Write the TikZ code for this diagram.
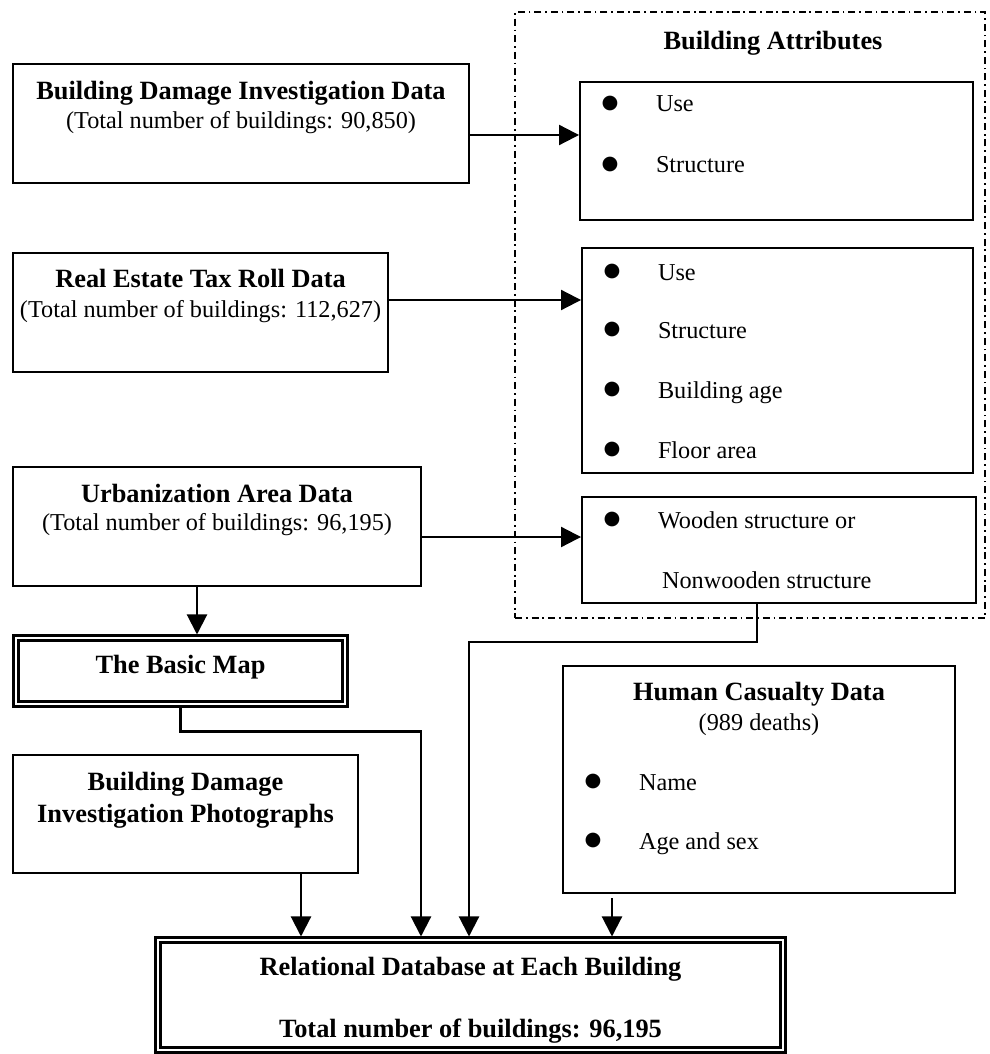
\documentclass[tikz,border=0pt]{standalone}
\usepackage{fontspec}
\setmainfont{Liberation Serif}
\newfontfamily\bulletFont{DejaVu Sans}
\usetikzlibrary{arrows.meta}

\begin{document}
\begin{tikzpicture}[
  font=\rmfamily,
  dataBox/.style={
    rectangle, draw=black, line width=1.2pt,
    inner sep=0pt
  },
  attrBox/.style={
    dataBox, line width=1.1pt
  },
  doubleBox/.style={
    dataBox, double, double distance=1.6pt,
    outer sep=2pt
  },
  attrFrame/.style={
    rectangle, draw=black, line width=0.8pt,
    inner sep=0pt,
    dash pattern=on 4pt off 2.2pt on 1pt off 2.2pt
  },
  flowArrow/.style={
    -{Triangle[length=0.4cm,width=0.4cm]},
    line width=1.2pt,
    draw=black
  }
]

% Text macros for inside boxes
\newcommand{\titleFont}{\fontsize{15}{0}\selectfont\bfseries}
\newcommand{\bodyFont}{\fontsize{13.8}{0}\selectfont\mdseries}
\newcommand{\boxText}[4]{\parbox[c][#2][t]{#1}{\lineskiplimit=-1000pt\lineskip=0pt\centering\bodyFont\rule{0pt}{#3}#4}}
\newcommand{\bulletItem}[1]{\makebox[\linewidth][l]{\hspace*{0.43cm}\makebox[1.09cm][l]{\raisebox{0.07cm}{\bulletFont\fontsize{11}{0}\selectfont ●}}#1}}

% Fix page to the 989 x 1054 frame
\useasboundingbox (0,0) rectangle (19.78,-21.08);

% Building attributes frame
\node[attrFrame] (attrs) at (15.0,-6.3) {\boxText{9.4cm}{12.12cm}{0.76cm}{\titleFont\hspace*{0.92cm}Building Attributes}};

% Source data (left column)
\node[dataBox] (bdi) at (4.82,-2.47) {\boxText{9.12cm}{2.38cm}{0.72cm}{%
  \titleFont Building Damage Investigation Data\\[0.58cm]
  \bodyFont (Total number of buildings: 90,850)}};
\node[dataBox] (tax) at (4.01,-6.25) {\boxText{7.5cm}{2.38cm}{0.70cm}{%
  \titleFont Real Estate Tax Roll Data\\[0.60cm]
  \bodyFont (Total number of buildings: 112,627)}};
\node[dataBox] (urban) at (4.34,-10.53) {\boxText{8.16cm}{2.38cm}{0.70cm}{%
  \titleFont Urbanization Area Data\\[0.56cm]
  \bodyFont (Total number of buildings: 96,195)}};
\node[doubleBox] (map) at (3.61,-13.42) {\boxText{6.58cm}{1.32cm}{0.70cm}{%
  \titleFont The Basic Map}};
\node[dataBox] (photo) at (3.71,-16.28) {\boxText{6.9cm}{2.36cm}{0.70cm}{%
  \titleFont Building Damage\\[0.64cm]
  Investigation Photographs}};

% Attribute lists (right column)
\node[attrBox] (attrA) at (15.53,-3.02) {\boxText{7.86cm}{2.76cm}{0.60cm}{%
  \bulletItem{Use}\\[1.22cm]
  \bulletItem{Structure}}};
\node[attrBox] (attrB) at (15.55,-7.21) {\boxText{7.82cm}{4.5cm}{0.64cm}{%
  \bulletItem{Use}\\[1.16cm]
  \bulletItem{Structure}\\[1.2cm]
  \bulletItem{Building age}\\[1.2cm]
  \bulletItem{Floor area}}};
\node[attrBox] (attrC) at (15.58,-11.0) {\boxText{7.88cm}{2.12cm}{0.62cm}{%
  \bulletItem{Wooden structure or}\\[1.2cm]
  \makebox[\linewidth][l]{\hspace*{1.6cm}Nonwooden structure}}};

% Casualties
\node[dataBox] (hc) at (15.18,-15.59) {\boxText{7.84cm}{4.54cm}{0.68cm}{%
  \titleFont Human Casualty Data\\[0.6cm]
  \bodyFont (989 deaths)\\[1.2cm]
  \bulletItem{Name}\\[1.18cm]
  \bulletItem{Age and sex}}};

% Target database
\node[doubleBox] (db) at (9.41,-19.9) {\boxText{12.5cm}{2.2cm}{0.70cm}{%
  \titleFont Relational Database at Each Building\\[1.24cm]
  Total number of buildings: 96,195}};

% Sources into attributes
\coordinate (bdiOut) at ([yshift=-0.23cm]bdi.east);
\coordinate (taxOut) at ([yshift=0.25cm]tax.east);
\coordinate (urbanOut) at ([yshift=-0.21cm]urban.east);
\draw[flowArrow] (bdiOut) -- (bdiOut -| attrA.west);
\draw[flowArrow] (taxOut) -- (taxOut -| attrB.west);
\draw[flowArrow] (urbanOut) -- (urbanOut -| attrC.west);

% Urbanization data gives the basic map
\coordinate (urbanDown) at ([xshift=-0.4cm]urban.south);
\draw[flowArrow] (urbanDown) -- (urbanDown |- map.north);

% Everything into the database
\coordinate (mapTurn) at ([yshift=-0.48cm]map.south);
\coordinate (dbInMap) at ([xshift=-0.99cm]db.north);
\draw[flowArrow] (map.south) -- (mapTurn) -| (dbInMap);

\coordinate (attrDown) at ([xshift=-0.44cm]attrC.south);
\coordinate (attrTurn) at ([yshift=-0.76cm]attrDown);
\coordinate (dbInAttr) at ([xshift=-0.03cm]db.north);
\draw[flowArrow] (attrDown) -- (attrTurn) -| (dbInAttr);

\coordinate (photoOut) at ([xshift=2.31cm]photo.south);
\draw[flowArrow] (photoOut) -- (photoOut |- db.north);

\coordinate (hcOut) at ([xshift=-2.94cm,yshift=-0.08cm]hc.south);
\draw[flowArrow] (hcOut) -- (hcOut |- db.north);

\end{tikzpicture}
\end{document}
